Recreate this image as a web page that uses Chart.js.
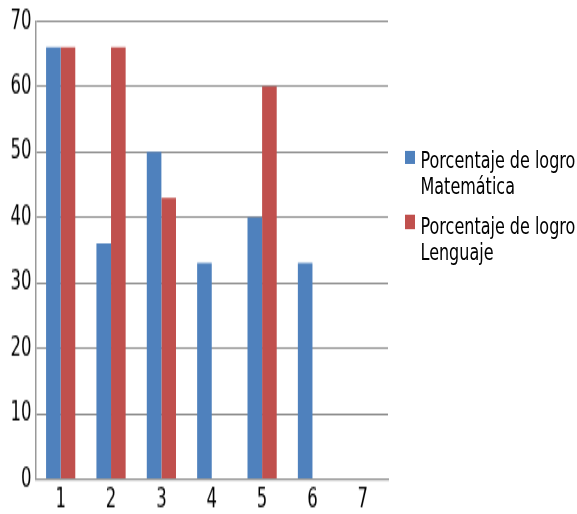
<!DOCTYPE html>
<html><head><meta charset="utf-8">
<script src="https://cdn.jsdelivr.net/npm/chart.js@4/dist/chart.umd.min.js"></script>
<style>
html,body{margin:0;padding:0;background:#fff;overflow:hidden;}
#wrap{position:relative;width:577px;height:514px;}
#stretch{position:absolute;left:0;top:0;width:577px;height:302px;transform:scaleY(1.702);transform-origin:0 0;}
#legend{position:absolute;left:405px;top:148px;transform:scaleY(1.45);transform-origin:0 0;font-family:"DejaVu Sans",sans-serif;font-size:16px;line-height:18.3px;color:#000;white-space:nowrap;}
.item{position:relative;padding-left:15.5px;margin-bottom:8px;}
.sw{position:absolute;left:0;top:1.65px;width:10px;height:9.4px;}
</style></head>
<body>
<div id="wrap">
<div id="stretch"><canvas id="c" width="577" height="302"></canvas></div>
<div id="legend"></div></div>
<script>
const categories = ["1","2","3","4","5","6","7"];
const seriesNames = [["Porcentaje de logro","Matemática"],["Porcentaje de logro","Lenguaje"]];
const matematica = [66, 36, 50, 33, 40, 33, 0];
const lenguaje = [66, 66, 43, 0, 60, 0, 0];
const yTicks = [0,10,20,30,40,50,60,70];
const colors = ["#4F81BD","#C0504D"];

const yFont = {family:'"DejaVu Sans",sans-serif', size:16.5, lineHeight:1};
const xFont = {family:'"DejaVu Sans",sans-serif', size:16.5, lineHeight:0.65};
new Chart(document.getElementById('c'), {
  type:'bar',
  data:{labels:categories, datasets:[
    {label:seriesNames[0].join(' '), data:matematica, backgroundColor:colors[0], barPercentage:1, categoryPercentage:0.58},
    {label:seriesNames[1].join(' '), data:lenguaje, backgroundColor:colors[1], barPercentage:1, categoryPercentage:0.58}
  ]},
  options:{
    responsive:false, animation:false, devicePixelRatio:1,
    layout:{padding:{top:0.75,right:189,left:6.5,bottom:-4.1}},
    plugins:{legend:{display:false}, tooltip:{enabled:false}},
    scales:{
      x:{grid:{display:false, drawTicks:false}, border:{color:'#999',width:1.2},
         ticks:{color:'#000',font:xFont,padding:6.9}},
      y:{min:0,max:70, afterBuildTicks:(s)=>{s.ticks=yTicks.map(v=>({value:v}));},
         grid:{color:'#8e8e8e',lineWidth:1,drawTicks:false}, border:{color:'#999',width:1.5},
         ticks:{color:'#000',font:yFont,padding:4}}
    }
  }
});
const lg=document.getElementById('legend');
seriesNames.forEach((n,i)=>{
  const d=document.createElement('div');d.className='item';
  d.innerHTML='<span class="sw" style="background:'+colors[i]+'"></span>'+n[0]+'<br>'+n[1];
  lg.appendChild(d);
});
</script>
</body></html>
